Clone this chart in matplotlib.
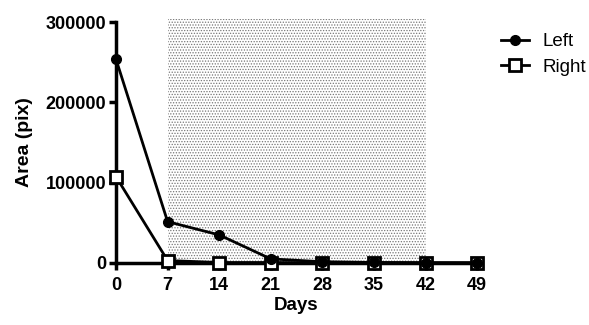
import numpy as np
import matplotlib.pyplot as plt

plt.rcParams['font.family'] = ['Liberation Sans', 'DejaVu Sans']
plt.rcParams['hatch.linewidth'] = 0.6

days = [0, 7, 14, 21, 28, 35, 42, 49]
left = [253600, 51400, 34900, 5000, 1500, 600, 300, 200]
right = [107400, 3000, 500, 500, 200, 100, 100, 100]
shade_start, shade_end = 7, 42
y_ticks = [0, 100000, 200000, 300000]

fig = plt.figure(figsize=(5.89, 3.25), dpi=100)
ax = fig.add_axes([0.197, 0.191, 0.613, 0.741])

# shaded treatment period
ax.axvspan(shade_start, shade_end, ymin=0, ymax=1.013, facecolor='white',
           edgecolor='#777777', hatch='......', linewidth=0, clip_on=False, zorder=0)

ax.plot(days, right, color='black', lw=2, marker='s', ms=8, mfc='white',
        mec='black', mew=2, label='Right', clip_on=False, zorder=3)
ax.plot(days, left, color='black', lw=2, marker='o', ms=7, mfc='black',
        mec='black', label='Left', clip_on=False, zorder=4)

ax.set_xlim(0, 49)
ax.set_ylim(0, 300000)
ax.set_xticks(days)
ax.set_yticks(y_ticks)
ax.set_yticklabels([str(v) for v in y_ticks])
for sp in ['top', 'right']:
    ax.spines[sp].set_visible(False)
for sp in ['left', 'bottom']:
    ax.spines[sp].set_linewidth(2.5)
ax.tick_params(width=2.5, length=5, labelsize=13)
ax.tick_params(axis='x', pad=5)
ax.tick_params(axis='y', pad=2)
for lab in ax.get_xticklabels() + ax.get_yticklabels():
    lab.set_fontweight('bold')

ax.set_xlabel('Days', fontsize=13.5, fontweight='bold', labelpad=2)
ax.set_ylabel('Area (pix)', fontsize=14, fontweight='bold', labelpad=9)

handles, labels = ax.get_legend_handles_labels()
ax.legend(handles[::-1], labels[::-1], loc='upper left', bbox_to_anchor=(1.02, 1.025),
          frameon=False, fontsize=13.5, handlelength=1.5, handletextpad=0.7,
          labelspacing=0.45)

fig.savefig('out.png', dpi=100)
